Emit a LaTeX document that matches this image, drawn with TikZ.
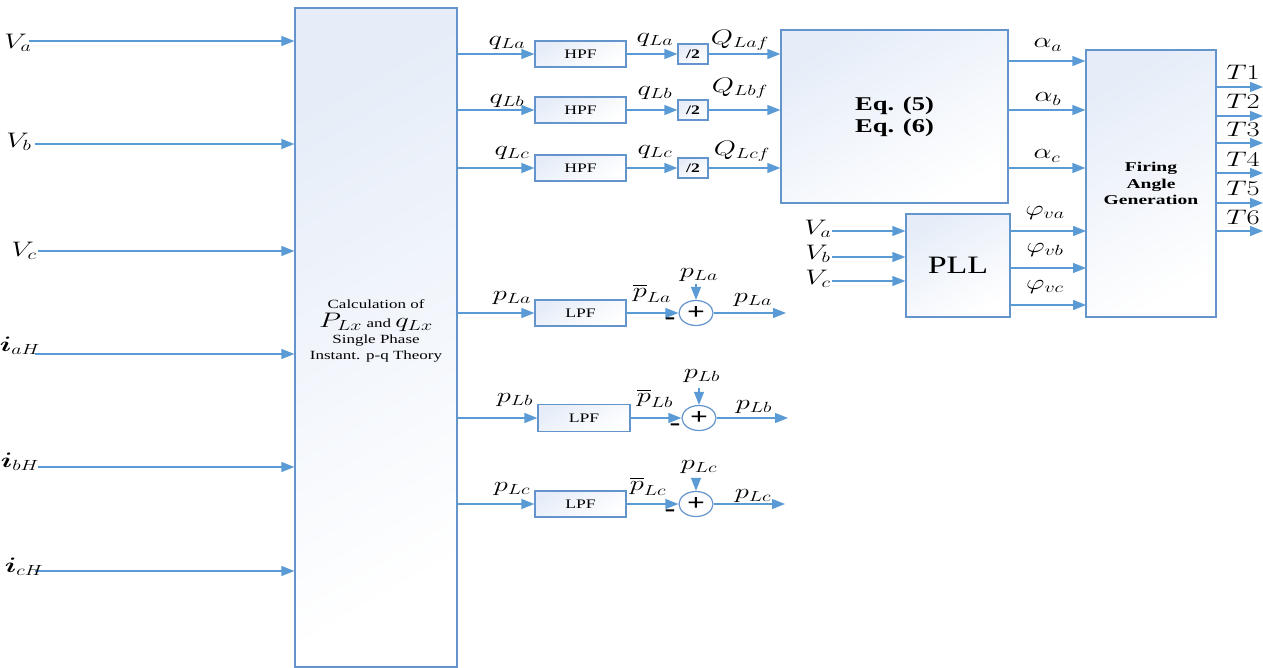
\RequirePackage{fix-cm}
\documentclass[tikz,border=0pt]{standalone}
\usepackage{amsmath}
\usepackage{fontspec}
\setmainfont{Liberation Serif}
\usepackage{graphicx}
\usetikzlibrary{arrows.meta,shapes.geometric}
\definecolor{lb}{RGB}{91,155,213}
\definecolor{bd}{RGB}{100,148,204}
\definecolor{bt}{RGB}{230,237,248}
\newcommand{\Wd}[1]{\scalebox{1.36}[1]{#1}}
\begin{document}
\begin{tikzpicture}[x=1pt,y=-1pt,
  arr/.style={draw=lb,line width=1.2pt,-{Triangle[length=13pt,width=10pt]}},
  blk/.style={draw=bd,line width=1.2pt,top color=bt,bottom color=white,middle color=white!50!bt,shading angle=30,inner sep=0pt},
  lab/.style={inner sep=0pt,font=\fontsize{21}{23}\selectfont},
  small/.style={font=\fontsize{13}{15}\selectfont},
  sumnode/.style={ellipse,draw=bd,line width=1.2pt,fill=white,minimum width=34pt,minimum height=25pt,inner sep=0pt,font=\fontsize{23}{24}\selectfont\bfseries},
  minus/.style={inner sep=0pt,font=\fontsize{24}{24}\selectfont\bfseries}]
\useasboundingbox (0,0) rectangle (1263,668);

% main calculation block
\node[blk,minimum width=162pt,minimum height=659pt] (calc) at (376,337.5) {};
\node[align=center,inner sep=0pt,font=\fontsize{12.5}{16}\selectfont] (calctext) at (376,331)
  {\Wd{Calculation of}\\[3pt]
   \Wd{{\fontsize{21}{22}\selectfont$P_{Lx}$} and {\fontsize{21}{22}\selectfont$q_{Lx}$}}\\
   \Wd{Single Phase}\\
   \Wd{Instant. p-q Theory}};

% inputs
\foreach \n/\x/\y in {Va/29/41, Vb/35/144, Vc/38/251, ia/35/354, ib/38/467, ic/35/571} {
  \coordinate (in\n) at (\x,\y);
  \draw[arr] (in\n) -- (in\n -| calc.west);
}
\node[lab] (lVa) at (18,43) {\Wd{$V_a$}};
\node[lab] (lVb) at (19,142) {\Wd{$V_b$}};
\node[lab] (lVc) at (24,251) {\Wd{$V_c$}};
\node[lab] (lia) at (20,346) {\Wd{$\boldsymbol{i}_{aH}$}};
\node[lab] (lib) at (20,462) {\Wd{$\boldsymbol{i}_{bH}$}};
\node[lab] (lic) at (24,567) {\Wd{$\boldsymbol{i}_{cH}$}};

% Eq block
\node[blk,minimum width=227pt,minimum height=173pt,align=center,font=\fontsize{19.5}{22}\selectfont\bfseries] (eq) at (894.5,116.5)
  {\Wd{Eq. (5)}\\\Wd{Eq. (6)}};

% Firing block
\node[blk,minimum width=130pt,minimum height=267pt,align=center,font=\fontsize{13.5}{16.5}\selectfont\bfseries] (fire) at (1151,183.5)
  {\scalebox{1.45}[1]{Firing}\\\scalebox{1.45}[1]{Angle}\\\scalebox{1.45}[1]{Generation}};

% PLL block
\node[blk,minimum width=104pt,minimum height=103pt,font=\fontsize{25}{28}\selectfont] (pll) at (958,265.5) {\Wd{PLL}};

% HPF rows
\foreach \r/\y in {a/54, b/110, c/168} {
  \node[blk,small,minimum width=91pt,minimum height=26pt] (hpf\r) at (580.5,\y) {\Wd{HPF}};
  \node[blk,small,minimum width=30pt,minimum height=20pt,font=\fontsize{13}{15}\selectfont\bfseries] (div\r) at (693,\y) {\Wd{/2}};
  \draw[arr] (hpf\r.west -| calc.east) -- (hpf\r.west);
  \draw[arr] (hpf\r) -- (div\r);
  \draw[arr] (div\r) -- (div\r -| eq.west);
}
\node[lab] (q1a) at (507,43) {\Wd{$q_{La}$}};
\node[lab] (q2a) at (655,40) {\Wd{$q_{La}$}};
\node[lab] (Qa) at (740,40) {\Wd{$Q_{Laf}$}};
\node[lab] (q1b) at (507,101) {\Wd{$q_{Lb}$}};
\node[lab] (q2b) at (655,93) {\Wd{$q_{Lb}$}};
\node[lab] (Qb) at (740,88) {\Wd{$Q_{Lbf}$}};
\node[lab] (q1c) at (512,153) {\Wd{$q_{Lc}$}};
\node[lab] (q2c) at (655,152) {\Wd{$q_{Lc}$}};
\node[lab] (Qc) at (742,151) {\Wd{$Q_{Lcf}$}};

% LPF rows
\node[blk,small,minimum width=91pt,minimum height=26pt] (lpfa) at (580.5,313) {\Wd{LPF}};
\node[blk,small,minimum width=92pt,minimum height=27pt] (lpfb) at (584,418) {\Wd{LPF}};
\node[blk,small,minimum width=91pt,minimum height=26pt] (lpfc) at (580.5,504) {\Wd{LPF}};
\node[sumnode] (suma) at (696,313) {\Wd{+}};
\node[sumnode] (sumb) at (699,418) {\Wd{+}};
\node[sumnode] (sumc) at (696,504) {\Wd{+}};
\coordinate (tpa) at (696,284);
\coordinate (tpb) at (699,388);
\coordinate (tpc) at (696,483);
\coordinate (opa) at (786,313);
\coordinate (opb) at (788,418);
\coordinate (opc) at (785,504);
\foreach \r in {a,b,c} {
  \draw[arr] (lpf\r.west -| calc.east) -- (lpf\r.west);
  \draw[arr] (lpf\r) -- (sum\r);
  \draw[arr] (tp\r) -- (sum\r);
  \draw[arr] (sum\r) -- (op\r);
}
\node[minus] (ma) at (670,321) {\Wd{-}};
\node[minus] (mb) at (675,427) {\Wd{-}};
\node[minus] (mc) at (670,513) {\Wd{-}};
\node[lab] (p1a) at (512,298) {\Wd{$p_{La}$}};
\node[lab] (p2a) at (652,293) {\Wd{$\overline{p}_{La}$}};
\node[lab] (p3a) at (699,275) {\Wd{$p_{La}$}};
\node[lab] (p4a) at (753,300) {\Wd{$p_{La}$}};
\node[lab] (p1b) at (515,400) {\Wd{$p_{Lb}$}};
\node[lab] (p2b) at (655,398) {\Wd{$\overline{p}_{Lb}$}};
\node[lab] (p3b) at (702,376) {\Wd{$p_{Lb}$}};
\node[lab] (p4b) at (754,407) {\Wd{$p_{Lb}$}};
\node[lab] (p1c) at (512,489) {\Wd{$p_{Lc}$}};
\node[lab] (p2c) at (648,486) {\Wd{$\overline{p}_{Lc}$}};
\node[lab] (p3c) at (699,467) {\Wd{$p_{Lc}$}};
\node[lab] (p4c) at (753,496) {\Wd{$p_{Lc}$}};

% alpha outputs
\foreach \n/\y in {1/61, 2/110, 3/168} {
  \coordinate (al\n) at (1008,\y);
  \draw[arr] (al\n) -- (al\n -| fire.west);
}
\node[lab] (la1) at (1048,45) {\Wd{$\alpha_a$}};
\node[lab] (la2) at (1048,99) {\Wd{$\alpha_b$}};
\node[lab] (la3) at (1047,156) {\Wd{$\alpha_c$}};

% PLL inputs
\foreach \n/\y in {1/231, 2/257, 3/281} {
  \coordinate (pv\n) at (832,\y);
  \draw[arr] (pv\n) -- (pv\n -| pll.west);
}
\node[lab] (lpv1) at (818,229) {\Wd{$V_a$}};
\node[lab] (lpv2) at (818,254) {\Wd{$V_b$}};
\node[lab] (lpv3) at (818,279) {\Wd{$V_c$}};

% phi outputs
\foreach \n/\y in {1/231, 2/268, 3/305} {
  \coordinate (ph\n) at (1086,\y);
  \draw[arr] (ph\n -| pll.east) -- (ph\n);
}
\node[lab] (lph1) at (1045,213) {\Wd{$\varphi_{va}$}};
\node[lab] (lph2) at (1045,250) {\Wd{$\varphi_{vb}$}};
\node[lab] (lph3) at (1045,287) {\Wd{$\varphi_{vc}$}};

% T outputs
\foreach \n/\y/\ly in {1/87/72, 2/116/101, 3/143/129, 4/173/159, 5/203/188, 6/231/217} {
  \coordinate (t\n) at (1263,\y);
  \draw[arr] (t\n -| fire.east) -- (t\n);
  \node[lab] (lt\n) at (1243,\ly) {\Wd{$T\n$}};
}
\end{tikzpicture}
\end{document}
